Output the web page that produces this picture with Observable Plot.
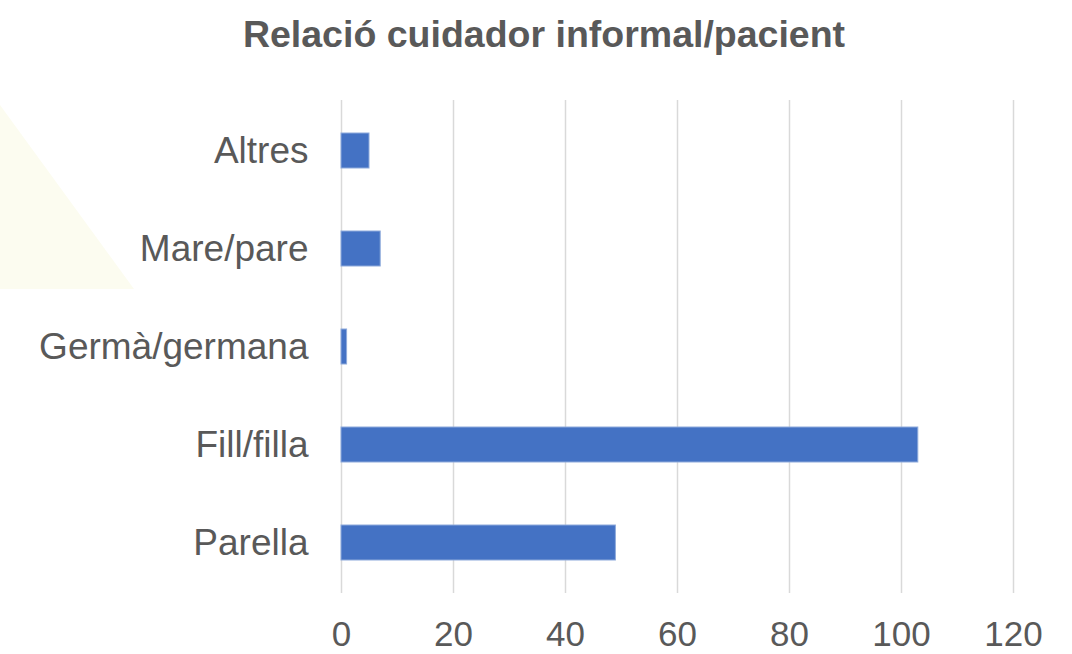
<!DOCTYPE html>
<html>
<head>
<meta charset="utf-8">
<script src="https://cdn.jsdelivr.net/npm/d3@7"></script>
<script src="https://cdn.jsdelivr.net/npm/@observablehq/plot@0.6"></script>
<style>
  html, body { margin: 0; padding: 0; background: #fff; }
  #wrap { position: relative; width: 1072px; height: 654px; overflow: hidden; font-family: "Liberation Sans", Arial, sans-serif; }
  #deco { position: absolute; left: 0; top: 105px; width: 134px; height: 184px; background: #fcfcf0; clip-path: polygon(0 0, 100% 100%, 0 100%); }
  #title { position: relative; height: 70px; box-sizing: border-box; padding-top: 16px; padding-left: 16px; text-align: center; font-size: 37.5px; line-height: 37px; font-weight: bold; color: #595959; }
  #chart { position: relative; }
  #chart svg { display: block; background: transparent !important; }
</style>
</head>
<body>
<div id="wrap">
  <div id="deco"></div>
  <div id="title">Relació cuidador informal/pacient</div>
  <div id="chart"></div>
</div>
<script>
const categories = ["Altres", "Mare/pare", "Germà/germana", "Fill/filla", "Parella"];
const values = [5, 7, 1, 103, 49];
const xTicks = [0, 20, 40, 60, 80, 100, 120];

const data = categories.map((c, i) => ({category: c, value: values[i]}));

const chart = Plot.plot({
  width: 1072,
  height: 584,
  marginLeft: 341,
  marginRight: 59,
  marginTop: 30,
  marginBottom: 61,
  style: {fontFamily: '"Liberation Sans", Arial, sans-serif', background: "transparent", color: "#595959"},
  x: {domain: [0, 120], ticks: xTicks},
  y: {domain: categories, paddingInner: 0.64, paddingOuter: 0.32},
  marks: [
    Plot.gridX(xTicks, {stroke: "#d9d9d9", strokeOpacity: 1, strokeWidth: 1.5}),
    Plot.barX(data, {x: "value", y: "category", fill: "#4472c4", stroke: "#8eaadb", strokeWidth: 1}),
    Plot.axisX({ticks: xTicks, tickSize: 0, tickPadding: 28, fontSize: 35, fill: "#595959", label: null}),
    Plot.axisY({tickSize: 0, tickPadding: 33, fontSize: 37, fill: "#595959", label: null})
  ]
});
document.getElementById("chart").appendChild(chart);
</script>
</body>
</html>
